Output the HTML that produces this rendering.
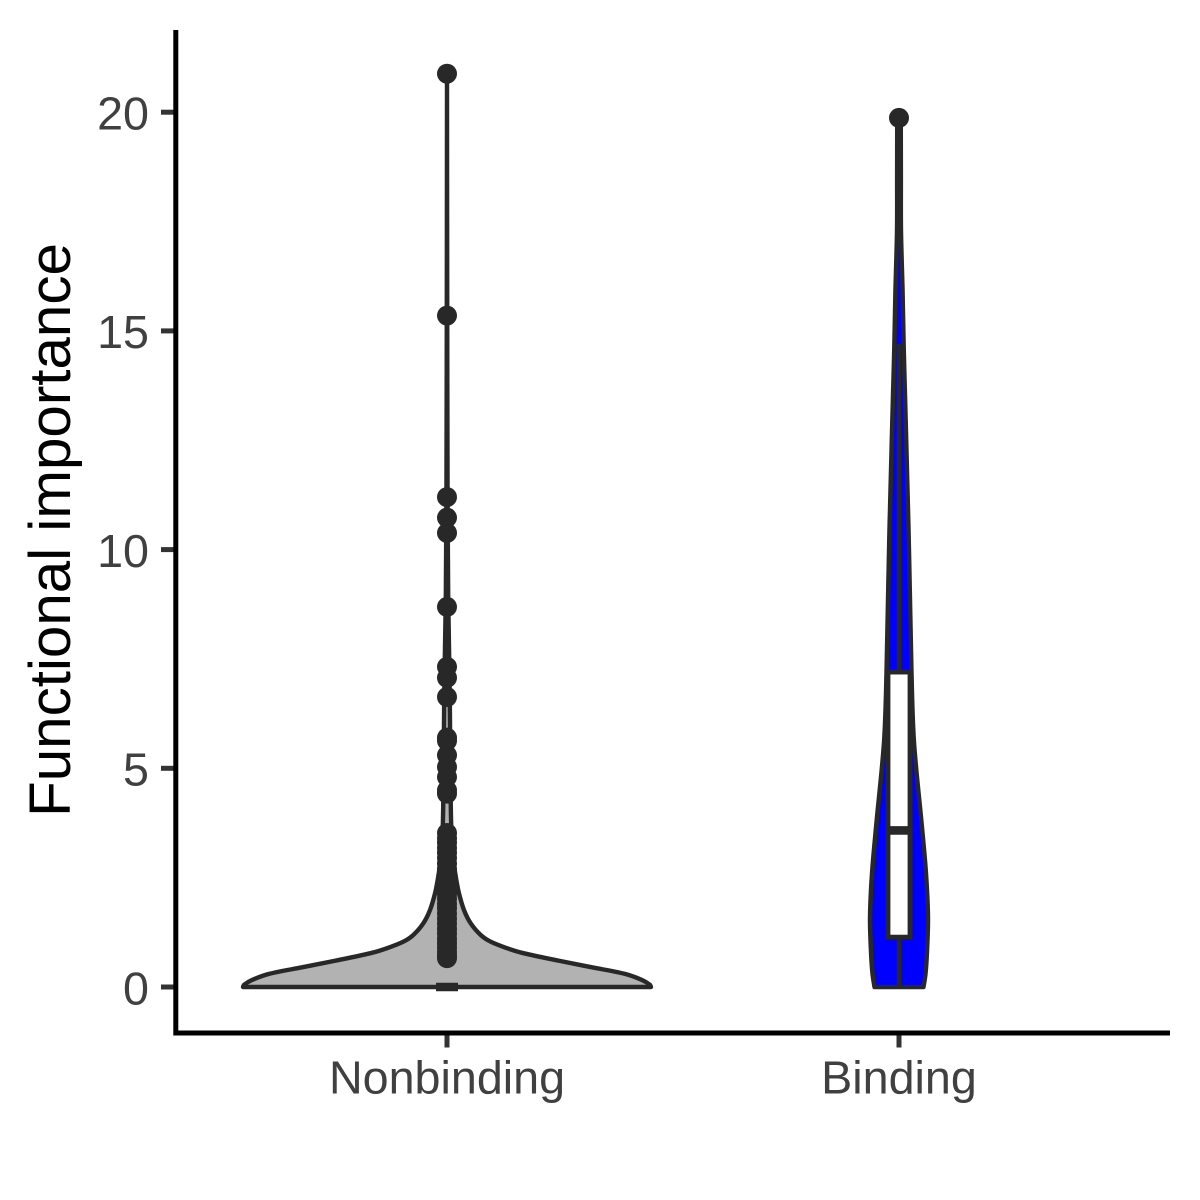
<!DOCTYPE html>
<html>
<head>
<meta charset="utf-8">
<title>Functional importance violin plot</title>
<style>
html,body{margin:0;padding:0;background:#fff;width:1200px;height:1200px;overflow:hidden}
svg{display:block}
text{font-family:"Liberation Sans",Arial,sans-serif}
</style>
</head>
<body>
<svg id="chart" xmlns="http://www.w3.org/2000/svg" width="1200" height="1200" viewBox="0 0 1200 1200"></svg>
<script>
const categories = ['Nonbinding', 'Binding'];
const yTicks = [0, 5, 10, 15, 20];
const yAxisLabel = 'Functional importance';

// Density outline per group: value on the y axis, density at that value
const nonbindingLevels = [0, 0.05, 0.16, 0.3, 0.45, 0.6, 0.77, 0.885, 1.036, 1.19, 1.456, 1.76, 2.14, 2.45, 2.8, 3.5, 4.5, 5.5, 6.6, 7.5, 8.9, 11, 15, 18, 20.87];
const nonbindingDensity = [204, 203, 195, 178, 145, 112, 77, 60.3, 43.7, 33.7, 23.7, 17, 12, 9.3, 7, 4.5, 3.6, 3.2, 2.8, 2.2, 1.2, 0.6, 0.25, 0.1, 0];
const bindingLevels = [0, 0.3, 0.8, 1.6, 2.6, 3.65, 5.6, 7.2, 10.5, 13.55, 14.6, 15.9, 17.3, 18.5, 19.87];
const bindingDensity = [24.5, 26.5, 28, 29, 27, 23, 15, 12.5, 9.5, 6, 4.75, 3.6, 2, 1.9, 1.8];

// Box statistics
const nonbindingBox = [0, 0, 0];
const bindingBox = [1.14, 3.58, 7.2];
const bindingWhiskers = [0, 14.7];

// Outliers
const nonbindingOutliers = [20.88, 15.35, 11.2, 10.73, 10.38, 8.69, 7.32, 7.07, 6.63, 5.7, 5.63, 5.3, 5.03, 4.8, 4.5, 4.42,
  3.52, 3.4, 3.3, 3.18, 3.07, 2.95, 2.82, 2.7, 2.6, 2.48, 2.36, 2.25, 2.13, 2.02, 1.9, 1.8, 1.68, 1.56, 1.45, 1.33, 1.22, 1.1, 1.0, 0.9, 0.8, 0.72, 0.66];
const bindingOutliers = [19.87];

const svg = document.getElementById('chart');
const NS = 'http://www.w3.org/2000/svg';
const yScale = v => 987 - 43.74 * v;
const xScale = i => 447 + 452 * i;
const widthScale = d => d;
const ink = '#282828';

function make(tag, attrs, parent) {
  const el = document.createElementNS(NS, tag);
  for (const k in attrs) el.setAttribute(k, attrs[k]);
  (parent || svg).appendChild(el);
  return el;
}

function dist(a, b) {
  return Math.hypot(a[0] - b[0], a[1] - b[1]) || 0.001;
}

function tangent(p0, p1, p2) {
  const total = dist(p0, p1) + dist(p1, p2);
  return [(p2[0] - p0[0]) / total, (p2[1] - p0[1]) / total];
}

function smooth(pts) {
  let d = 'M' + pts[0][0].toFixed(2) + ' ' + pts[0][1].toFixed(2);
  for (let i = 0; i < pts.length - 1; i++) {
    const p0 = pts[Math.max(0, i - 1)], p1 = pts[i], p2 = pts[i + 1], p3 = pts[Math.min(pts.length - 1, i + 2)];
    const seg = dist(p1, p2) / 3;
    const t1 = tangent(p0, p1, p2), t2 = tangent(p1, p2, p3);
    const c1x = p1[0] + t1[0] * seg, c1y = p1[1] + t1[1] * seg;
    const c2x = p2[0] - t2[0] * seg, c2y = p2[1] - t2[1] * seg;
    d += 'C' + [c1x, c1y, c2x, c2y, p2[0], p2[1]].map(n => n.toFixed(2)).join(' ');
  }
  return d;
}

function violinPath(i, levels, density) {
  const cx = xScale(i);
  const left = levels.map((v, k) => [cx - widthScale(density[k]), yScale(v)]);
  const right = levels.map((v, k) => [cx + widthScale(density[k]), yScale(v)]).reverse();
  const rightPart = smooth(right).replace(/^M/, 'L');
  return smooth(left) + rightPart + 'Z';
}

function drawGroup(i, levels, density, fill, box, whiskers, outliers) {
  const cx = xScale(i);
  const group = make('g', {});
  
  

  const violin = make('path', { d: violinPath(i, levels, density), fill: fill, stroke: ink, 'stroke-width': 4.4, 'stroke-linejoin': 'round' }, group);
  
  

  if (whiskers) {
    const upper = make('line', { x1: cx, x2: cx, y1: yScale(box[2]), y2: yScale(whiskers[1]), stroke: ink, 'stroke-width': 4.6 }, group);
    
    
    const lower = make('line', { x1: cx, x2: cx, y1: yScale(box[0]), y2: yScale(whiskers[0]), stroke: ink, 'stroke-width': 4.6 }, group);
    
    
  }

  const boxHalf = 11;
  const rect = make('rect', { x: cx - boxHalf, y: yScale(box[2]), width: boxHalf * 2, height: yScale(box[0]) - yScale(box[2]), fill: '#fff', stroke: ink, 'stroke-width': 4.8 }, group);
  
  

  const median = make('line', { x1: cx - boxHalf, x2: cx + boxHalf, y1: yScale(box[1]), y2: yScale(box[1]), stroke: ink, 'stroke-width': 8.6 }, group);
  
  

  outliers.forEach(v => {
    const pt = make('circle', { cx: cx, cy: yScale(v), r: 10, fill: ink }, group);
    
    
  });
}

drawGroup(0, nonbindingLevels, nonbindingDensity, '#B2B2B2', nonbindingBox, null, nonbindingOutliers);
drawGroup(1, bindingLevels, bindingDensity, '#0000FF', bindingBox, bindingWhiskers, bindingOutliers);

// Y axis
yTicks.forEach(t => {
  const tick = make('line', { x1: 161, x2: 174, y1: yScale(t), y2: yScale(t), stroke: '#333333', 'stroke-width': 5 });
  
  
  const label = make('text', { x: 149, y: yScale(t) + 17.3, 'text-anchor': 'end', 'font-size': 46.67, fill: '#404040' });
  label.textContent = String(t);
  
  
});

// X axis
categories.forEach((c, i) => {
  const tick = make('line', { x1: xScale(i), x2: xScale(i), y1: 1034, y2: 1047.5, stroke: '#333333', 'stroke-width': 5 });
  
  
  const label = make('text', { x: xScale(i), y: 1093.5, 'text-anchor': 'middle', 'font-size': 46.67, fill: '#404040' });
  label.textContent = c;
  
  
});

const yLine = make('line', { x1: 175.8, x2: 175.8, y1: 30, y2: 1035.5, stroke: '#000', 'stroke-width': 5 });



const xLine = make('line', { x1: 175.8, x2: 1170, y1: 1033, y2: 1033, stroke: '#000', 'stroke-width': 5 });



const title = make('text', { transform: 'translate(70 530) rotate(-90)', 'text-anchor': 'middle', 'font-size': 58.33, fill: '#000' });
title.textContent = yAxisLabel;


</script>
</body>
</html>
